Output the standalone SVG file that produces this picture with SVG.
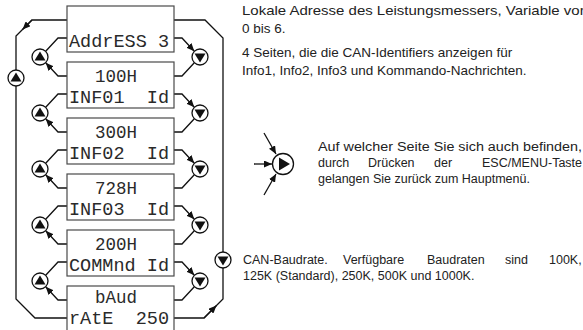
<svg xmlns="http://www.w3.org/2000/svg" width="583" height="330" viewBox="0 0 583 330">
<style>
.box{fill:#fff;stroke:#4a4a4a;stroke-width:1.2}
.seg{font-family:"Liberation Mono","DejaVu Sans Mono",monospace;font-size:18.5px;fill:#2a2a2a}
.btn{fill:#fff;stroke:#111;stroke-width:1.3}
.tri{fill:#111}
.wire{fill:none;stroke:#111;stroke-width:1.3}
.txt{font-family:"Liberation Sans",Arial,sans-serif;font-size:12.5px;fill:#222}
.big{font-size:13.5px}
</style>
<defs>
<marker id="ah" markerUnits="userSpaceOnUse" markerWidth="9" markerHeight="7" refX="8" refY="3.5" orient="auto">
<path d="M0,0 L8,3.5 L0,7 z" fill="#111"/>
</marker>
</defs>
<g id="connectors">
<path class="wire" d="M174,38 H182 L194.3,51.3" marker-end="url(#ah)"/>
<path class="wire" d="M194.3,62.7 L182,76 H174"/>
<path class="wire" d="M67,38 H58 L45.7,51.3"/>
<path class="wire" d="M67,76 H58 L45.7,62.7" marker-end="url(#ah)"/>
<path class="wire" d="M174,94 H182 L194.3,107.3" marker-end="url(#ah)"/>
<path class="wire" d="M194.3,118.7 L182,132 H174"/>
<path class="wire" d="M67,94 H58 L45.7,107.3"/>
<path class="wire" d="M67,132 H58 L45.7,118.7" marker-end="url(#ah)"/>
<path class="wire" d="M174,150 H182 L194.3,163.3" marker-end="url(#ah)"/>
<path class="wire" d="M194.3,174.7 L182,188 H174"/>
<path class="wire" d="M67,150 H58 L45.7,163.3"/>
<path class="wire" d="M67,188 H58 L45.7,174.7" marker-end="url(#ah)"/>
<path class="wire" d="M174,206 H182 L194.3,219.3" marker-end="url(#ah)"/>
<path class="wire" d="M194.3,230.7 L182,244 H174"/>
<path class="wire" d="M67,206 H58 L45.7,219.3"/>
<path class="wire" d="M67,244 H58 L45.7,230.7" marker-end="url(#ah)"/>
<path class="wire" d="M174,262 H182 L194.3,275.3" marker-end="url(#ah)"/>
<path class="wire" d="M194.3,286.7 L182,300 H174"/>
<path class="wire" d="M67,262 H58 L45.7,275.3"/>
<path class="wire" d="M67,300 H58 L45.7,286.7" marker-end="url(#ah)"/>
<path class="wire" d="M67,20 H32 L16,36 V70"/>
<path class="wire" d="M32,20 L22.5,29.5" marker-end="url(#ah)"/>
<path class="wire" d="M16,86 V299 L35,318 H67"/>
<path class="wire" d="M174,20 H205 L223,38 V252"/>
<path class="wire" d="M223,268 V299 L204,318 H174"/>
<path class="wire" d="M204,318 L216.5,305.5" marker-end="url(#ah)"/>
<path class="wire" d="M264,133 L276,154" marker-end="url(#ah)"/>
<path class="wire" d="M254,164 L272,164" marker-end="url(#ah)"/>
<path class="wire" d="M264,195 L276,174" marker-end="url(#ah)"/>
</g>
<g id="page-address"><rect class="box" x="67" y="6" width="107" height="46"/><text class="seg" x="69" y="46.5" textLength="100" lengthAdjust="spacingAndGlyphs" xml:space="preserve">AddrESS 3</text></g>
<g id="page-info1"><rect class="box" x="67" y="62" width="107" height="46"/><text class="seg" x="116" y="81.5" text-anchor="middle" textLength="42" lengthAdjust="spacingAndGlyphs">100H</text><text class="seg" x="69" y="102.5" textLength="100" lengthAdjust="spacingAndGlyphs" xml:space="preserve">INF01  Id</text></g>
<g id="page-info2"><rect class="box" x="67" y="118" width="107" height="46"/><text class="seg" x="116" y="137.5" text-anchor="middle" textLength="42" lengthAdjust="spacingAndGlyphs">300H</text><text class="seg" x="69" y="158.5" textLength="100" lengthAdjust="spacingAndGlyphs" xml:space="preserve">INF02  Id</text></g>
<g id="page-info3"><rect class="box" x="67" y="174" width="107" height="46"/><text class="seg" x="116" y="193.5" text-anchor="middle" textLength="42" lengthAdjust="spacingAndGlyphs">728H</text><text class="seg" x="69" y="214.5" textLength="100" lengthAdjust="spacingAndGlyphs" xml:space="preserve">INF03  Id</text></g>
<g id="page-command"><rect class="box" x="67" y="230" width="107" height="46"/><text class="seg" x="116" y="249.5" text-anchor="middle" textLength="42" lengthAdjust="spacingAndGlyphs">200H</text><text class="seg" x="69" y="270.5" textLength="100" lengthAdjust="spacingAndGlyphs" xml:space="preserve">COMMnd Id</text></g>
<g id="page-baud"><rect class="box" x="67" y="286" width="107" height="46"/><text class="seg" x="116" y="302.6" text-anchor="middle" textLength="42" lengthAdjust="spacingAndGlyphs">bAud</text><text class="seg" x="69" y="324" textLength="100" lengthAdjust="spacingAndGlyphs" xml:space="preserve">rAtE  250</text></g>
<g id="btn-up-1"><circle class="btn" cx="40" cy="57" r="8"/><polygon class="tri" points="40,51.5 45.5,60.5 34.5,60.5"/></g>
<g id="btn-up-2"><circle class="btn" cx="40" cy="113" r="8"/><polygon class="tri" points="40,107.5 45.5,116.5 34.5,116.5"/></g>
<g id="btn-up-3"><circle class="btn" cx="40" cy="169" r="8"/><polygon class="tri" points="40,163.5 45.5,172.5 34.5,172.5"/></g>
<g id="btn-up-4"><circle class="btn" cx="40" cy="225" r="8"/><polygon class="tri" points="40,219.5 45.5,228.5 34.5,228.5"/></g>
<g id="btn-up-5"><circle class="btn" cx="40" cy="281" r="8"/><polygon class="tri" points="40,275.5 45.5,284.5 34.5,284.5"/></g>
<g id="btn-down-1"><circle class="btn" cx="200" cy="57" r="8"/><polygon class="tri" points="200,62.5 205.5,53.5 194.5,53.5"/></g>
<g id="btn-down-2"><circle class="btn" cx="200" cy="113" r="8"/><polygon class="tri" points="200,118.5 205.5,109.5 194.5,109.5"/></g>
<g id="btn-down-3"><circle class="btn" cx="200" cy="169" r="8"/><polygon class="tri" points="200,174.5 205.5,165.5 194.5,165.5"/></g>
<g id="btn-down-4"><circle class="btn" cx="200" cy="225" r="8"/><polygon class="tri" points="200,230.5 205.5,221.5 194.5,221.5"/></g>
<g id="btn-down-5"><circle class="btn" cx="200" cy="281" r="8"/><polygon class="tri" points="200,286.5 205.5,277.5 194.5,277.5"/></g>
<g id="btn-up-outer"><circle class="btn" cx="16" cy="78" r="8"/><polygon class="tri" points="16,72.5 21.5,81.5 10.5,81.5"/></g>
<g id="btn-down-outer"><circle class="btn" cx="223" cy="260" r="8"/><polygon class="tri" points="223,265.5 228.5,256.5 217.5,256.5"/></g>
<g id="btn-enter"><circle class="btn" cx="283" cy="164" r="10.5"/><polygon class="tri" points="290,164 279,157.5 279,170.5"/></g>
<g id="notes">
<text class="txt big" x="242" y="15" textLength="346" lengthAdjust="spacingAndGlyphs">Lokale Adresse des Leistungsmessers, Variable von</text>
<text class="txt big" x="242" y="33">0 bis 6.</text>
<text class="txt big" x="242" y="57">4 Seiten, die die CAN-Identifiers anzeigen für</text>
<text class="txt big" x="242" y="75">Info1, Info2, Info3 und Kommando-Nachrichten.</text>
<text class="txt" x="318" y="151" textLength="264" lengthAdjust="spacingAndGlyphs">Auf welcher Seite Sie sich auch befinden,</text>
<text class="txt" y="167"><tspan x="318">durch</tspan><tspan x="368">Drücken</tspan><tspan x="434">der</tspan><tspan x="482">ESC/MENU-Taste</tspan></text>
<text class="txt" x="318" y="183">gelangen Sie zurück zum Hauptmenü.</text>
<text class="txt" y="264"><tspan x="243">CAN-Baudrate.</tspan><tspan x="343">Verfügbare</tspan><tspan x="427">Baudraten</tspan><tspan x="505">sind</tspan><tspan x="549">100K,</tspan></text>
<text class="txt" x="243" y="280">125K (Standard), 250K, 500K und 1000K.</text>
</g>
</svg>
